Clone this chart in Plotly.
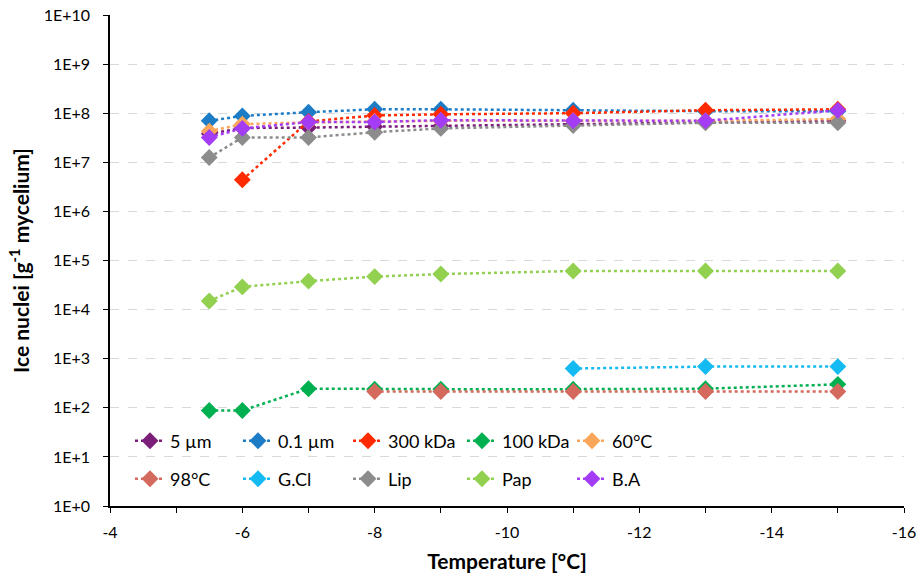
import plotly.graph_objects as go

temps = [-5.5, -6, -7, -8, -9, -11, -13, -15]

s_5um = [3.8e7, 5.0e7, 5.1e7, 5.3e7, 5.5e7, 6.0e7, 6.5e7, 7.0e7]
s_01um = [7.0e7, 8.8e7, 1.05e8, 1.2e8, 1.2e8, 1.15e8, 1.1e8, 1.1e8]
s_300kda = [None, 4.4e6, 6.8e7, 9.0e7, 9.5e7, 1.0e8, 1.15e8, 1.2e8]
s_100kda = [88, 88, 245, 240, 240, 240, 245, 300]
s_60c = [4.3e7, 6.0e7, 6.5e7, 6.8e7, 7.0e7, 7.0e7, 7.0e7, 7.6e7]
s_98c = [None, None, None, 215, 215, 215, 215, 215]
s_gcl = [None, None, None, None, None, 630, 690, 690]
s_lip = [1.25e7, 3.2e7, 3.2e7, 4.1e7, 4.9e7, 5.6e7, 6.4e7, 6.4e7]
s_pap = [1.5e4, 2.9e4, 3.8e4, 4.7e4, 5.3e4, 6.1e4, 6.1e4, 6.1e4]
s_ba = [3.2e7, 4.9e7, 6.6e7, 6.6e7, 7.2e7, 7.0e7, 7.0e7, 1.15e8]

names = ["5 µm", "0.1 µm", "300 kDa", "100 kDa", "60°C",
         "98°C", "G.Cl", "Lip", "Pap", "B.A"]
values = [s_5um, s_01um, s_300kda, s_100kda, s_60c,
          s_98c, s_gcl, s_lip, s_pap, s_ba]
colors = ["#7B1E7A", "#1C7CC6", "#FF2A00", "#00B050", "#F9A65A",
          "#D4695E", "#14BAF2", "#8C8C8C", "#92D050", "#A43CF5"]

ytick_vals = [10 ** i for i in range(0, 11)]
ytick_text = ["1E+%d" % i for i in range(0, 11)]
xtick_vals = [-4, -6, -8, -10, -12, -14, -16]
xtick_text = ["-4", "-6", "-8", "-10", "-12", "-14", "-16"]

FONT = "Lato"
ML, MR, MT, MB = 110, 15, 15, 70
W, H = 919, 576
PW = W - ML - MR
PH = H - MT - MB

# legend layout (pixel positions of legend marker centers / row centres)
col_px = [148, 256, 366, 480, 590]
row_px = [441, 479]

fig = go.Figure()
legends = {}
for i, (name, vals, color) in enumerate(zip(names, values, colors)):
    key = "legend" if i == 0 else "legend%d" % (i + 1)
    fig.add_trace(go.Scatter(
        x=temps, y=vals, name=name, mode="lines+markers",
        line=dict(color=color, width=2.5, dash="dot"),
        marker=dict(symbol="diamond", size=13, color=color),
        legend=key, connectgaps=False,
    ))
    cx = col_px[i % 5]
    ry = row_px[i // 5]
    legends[key] = dict(
        orientation="h",
        x=(cx - 18 - ML) / PW, xanchor="left",
        y=(H - MB - ry) / PH, yanchor="middle",
        bgcolor="rgba(0,0,0,0)", font=dict(family=FONT, size=18, color="#000"),
        itemwidth=30,
    )

fig.update_layout(
    width=W, height=H,
    margin=dict(l=ML, r=MR, t=MT, b=MB),
    plot_bgcolor="white", paper_bgcolor="white",
    font=dict(family=FONT, size=16, color="#000"),
    showlegend=True,
    **legends,
    xaxis=dict(
        range=[-4, -16], tickvals=xtick_vals, ticktext=xtick_text,
        ticks="outside", ticklen=5, tickcolor="#000", tickwidth=1,
        minor=dict(dtick=1, tick0=-4, ticks="outside", ticklen=5, tickcolor="#000"),
        showline=True, linecolor="#000", linewidth=1.5,
        showgrid=False, zeroline=False, automargin=False,
        tickfont=dict(family=FONT, size=16), ticklabelstandoff=6,
        title=dict(text="<b>Temperature [°C]</b>", font=dict(family=FONT, size=21), standoff=14),
    ),
    yaxis=dict(
        type="log", range=[0, 10], tickvals=ytick_vals, ticktext=ytick_text,
        ticks="outside", ticklen=5, tickcolor="#000", tickwidth=1,
        showline=True, linecolor="#000", linewidth=1.5,
        showgrid=True, gridcolor="#D9D9D9", griddash="dash", gridwidth=1,
        zeroline=False, automargin=False,
        tickfont=dict(family=FONT, size=16), ticklabelstandoff=10,
        title=dict(text="<b>Ice nuclei [g<sup>-1</sup> mycelium]</b>", font=dict(family=FONT, size=21), standoff=8),
    ),
)

fig.write_html("out.html", config={"displayModeBar": False},
               post_script="document.body.style.margin='0';")
